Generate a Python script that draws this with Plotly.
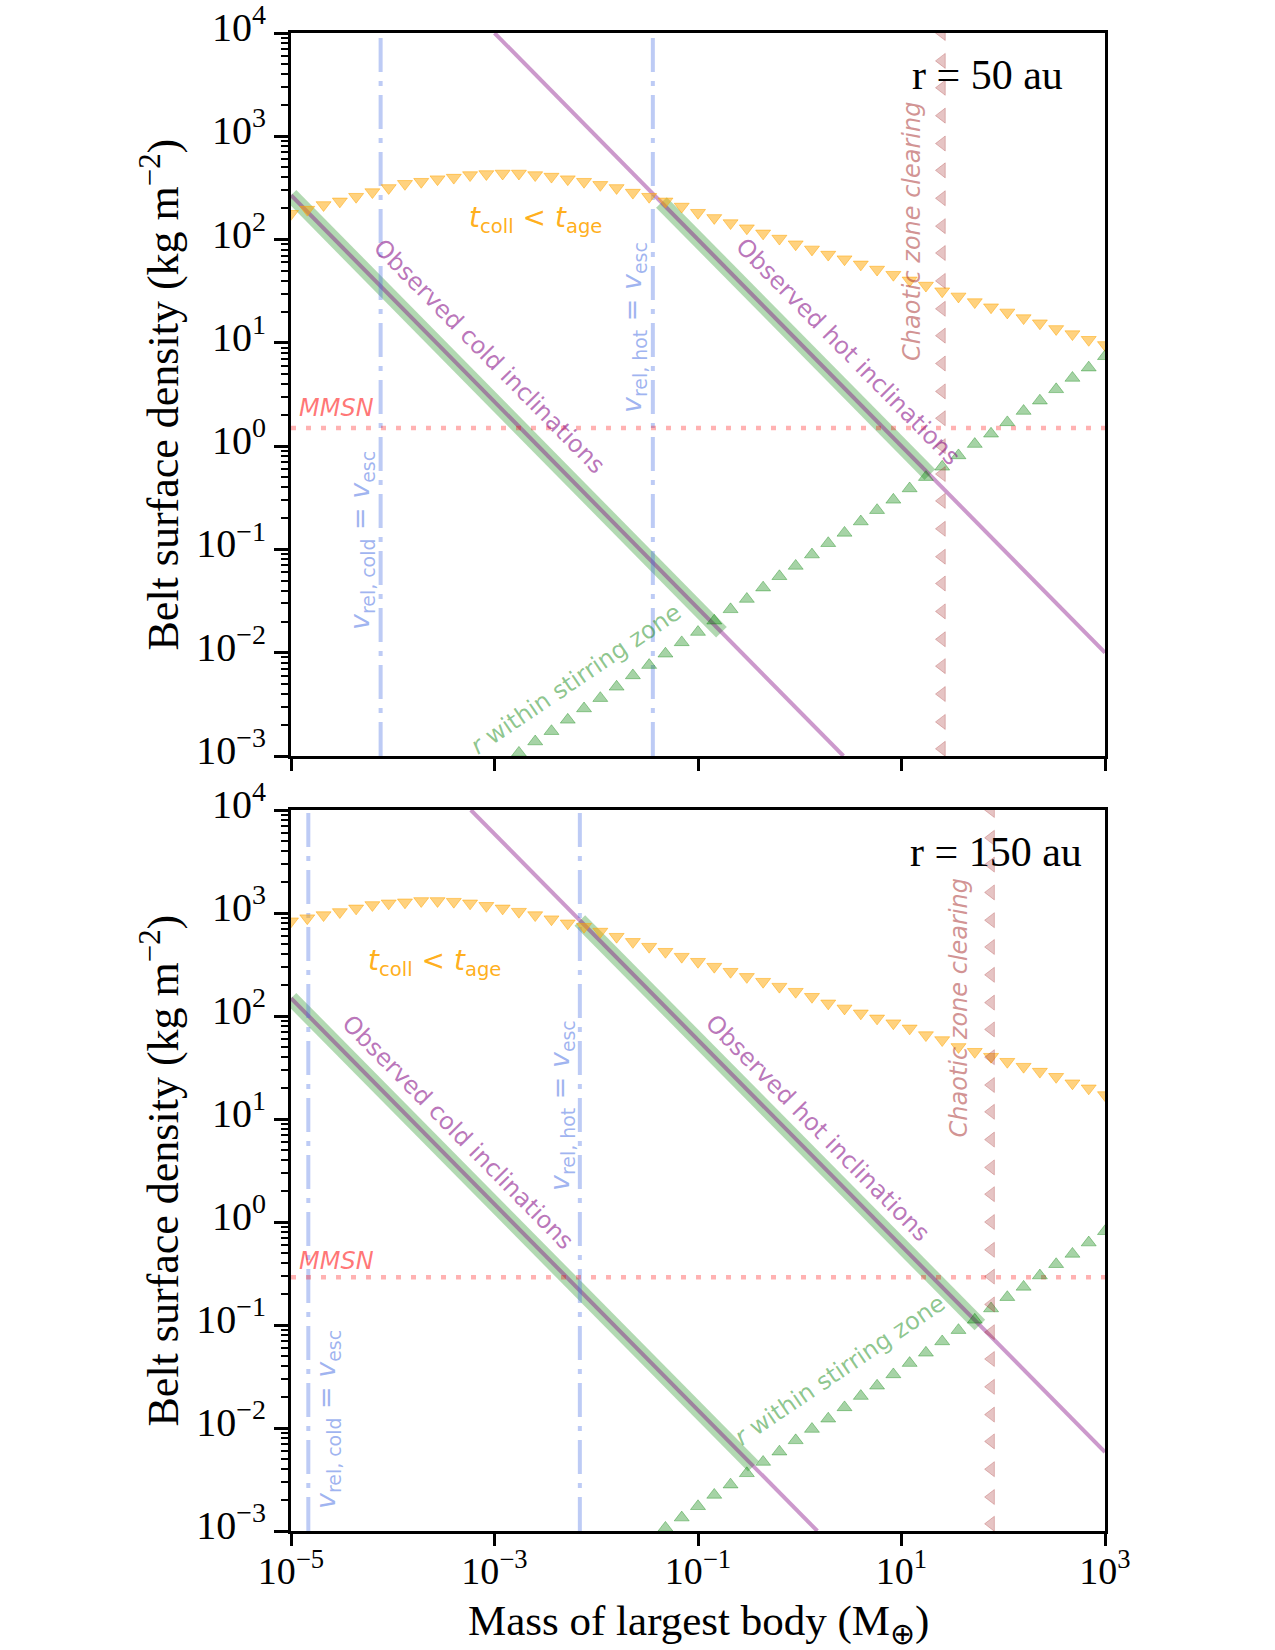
import plotly.graph_objects as go

# ---------------- data ----------------
# marker grid of the curves: log10 of mass of largest body (M_earth)
log_mass = [-5.00, -4.84, -4.68, -4.52, -4.36, -4.20, -4.04, -3.88, -3.72, -3.56,
            -3.40, -3.24, -3.08, -2.92, -2.76, -2.60, -2.44, -2.28, -2.12, -1.96,
            -1.80, -1.64, -1.48, -1.32, -1.16, -1.00, -0.84, -0.68, -0.52, -0.36,
            -0.20, -0.04, 0.12, 0.28, 0.44, 0.60, 0.76, 0.92, 1.08, 1.24,
            1.40, 1.56, 1.72, 1.88, 2.04, 2.20, 2.36, 2.52, 2.68, 2.84, 3.00]

# t_coll < t_age curve, log10 surface density
tcoll_top = [2.25, 2.29, 2.335, 2.37, 2.415, 2.46, 2.50, 2.54, 2.56, 2.585,
             2.60, 2.625, 2.635, 2.64, 2.64, 2.625, 2.61, 2.585, 2.56, 2.53,
             2.50, 2.455, 2.415, 2.37, 2.32, 2.26, 2.21, 2.16, 2.11, 2.06,
             2.01, 1.955, 1.905, 1.855, 1.81, 1.76, 1.71, 1.66, 1.605, 1.555,
             1.50, 1.45, 1.395, 1.345, 1.295, 1.24, 1.19, 1.135, 1.085, 1.03, 0.98]
tcoll_bot = [2.92, 2.95, 2.98, 3.01, 3.045, 3.078, 3.094, 3.104, 3.117, 3.117,
             3.11, 3.094, 3.07, 3.045, 3.013, 2.98, 2.94, 2.90, 2.867, 2.82,
             2.77, 2.72, 2.673, 2.624, 2.576, 2.527, 2.479, 2.43, 2.38, 2.333,
             2.285, 2.236, 2.187, 2.123, 2.074, 2.026, 1.977, 1.93, 1.88, 1.815,
             1.767, 1.70, 1.653, 1.605, 1.556, 1.508, 1.46, 1.41, 1.347, 1.298, 1.233]

# r within stirring zone curve (log10 surface density), same grid, from index 13 / 23
stir_top_start = 13
stir_top = [-3.08, -2.97, -2.86, -2.76, -2.65, -2.54, -2.44, -2.33, -2.22, -2.12,
            -2.01, -1.90, -1.80, -1.69, -1.58, -1.48, -1.37, -1.26, -1.16, -1.05,
            -0.94, -0.84, -0.73, -0.62, -0.52, -0.41, -0.30, -0.20, -0.09, 0.02,
            0.12, 0.23, 0.34, 0.44, 0.55, 0.66, 0.76, 0.87]
stir_bot_start = 23
stir_bot = [-2.97, -2.87, -2.76, -2.65, -2.55, -2.44, -2.33, -2.23, -2.12, -2.01,
            -1.91, -1.80, -1.69, -1.59, -1.48, -1.37, -1.27, -1.16, -1.05, -0.95,
            -0.84, -0.73, -0.63, -0.52, -0.41, -0.31, -0.20, -0.09]

# chaotic zone clearing: vertical column of markers (log10 surface density)
chaotic_logS = [4.0, 3.73, 3.47, 3.2, 2.93, 2.67, 2.4, 2.13, 1.87, 1.6, 1.33, 1.07,
                0.8, 0.53, 0.27, 0.0, -0.27, -0.53, -0.8, -1.07, -1.33, -1.6,
                -1.87, -2.13, -2.4, -2.67, -2.93]
chaotic_mass = [25.0, 76.0]          # top, bottom panel

# observed inclination lines (endpoints, mass, surface density)
hot_top_M, hot_top_S = [1e-3, 1e3], [1e4, 1e-2]
cold_top_M, cold_top_S = [1e-5, 2.69], [269.0, 1e-3]
hot_bot_M, hot_bot_S = [5.85e-4, 1e3], [1e4, 5.85e-3]
cold_bot_M, cold_bot_S = [1e-5, 1.49], [149.0, 1e-3]
# highlighted (allowed) parts
hot_top_band_M, hot_top_band_S = [0.0437, 19.0], [229.0, 0.53]
cold_top_band_M, cold_top_band_S = [1e-5, 0.17], [269.0, 0.0158]
hot_bot_band_M, hot_bot_band_S = [6.9e-3, 58.9], [845.0, 0.100]
cold_bot_band_M, cold_bot_band_S = [1e-5, 0.35], [149.0, 4.25e-3]

# v_rel = v_esc masses (cold, hot)
vesc_top = [7.6e-5, 0.036]
vesc_bot = [1.48e-5, 6.9e-3]
# MMSN surface density
mmsn = [1.5, 0.29]

x_ticks = [1e-5, 1e-3, 1e-1, 1e1, 1e3]
x_ticktext = ["10<sup>\u22125</sup>", "10<sup>\u22123</sup>", "10<sup>\u22121</sup>",
              "10<sup>1</sup>", "10<sup>3</sup>"]
y_ticks = [1e-3, 1e-2, 1e-1, 1e0, 1e1, 1e2, 1e3, 1e4]
y_ticktext = ["10<sup>\u22123</sup>", "10<sup>\u22122</sup>", "10<sup>\u22121</sup>",
              "10<sup>0</sup>", "10<sup>1</sup>", "10<sup>2</sup>", "10<sup>3</sup>",
              "10<sup>4</sup>"]

# ---------------- styling ----------------
GREEN_BAND = "rgba(0,128,0,0.3)"
PURPLE = "rgba(128,0,128,0.4)"
BLUE = "rgba(65,105,225,0.35)"
RED = "rgba(255,0,0,0.3)"
ORANGE_M = "rgba(255,165,0,0.5)"
GREEN_M = "rgba(0,128,0,0.35)"
BROWN_M = "rgba(165,42,42,0.28)"
SERIF = "Liberation Serif"
SANS = "DejaVu Sans"
LBL = 24
MS = 13

mass = [10 ** v for v in log_mass]
fig = go.Figure()


def add_panel(xa, ya, tcoll, stir_start, stir, cmass, hotM, hotS, coldM, coldS,
              hbM, hbS, cbM, cbS, vesc, mm):
    kw = dict(xaxis=xa, yaxis=ya, showlegend=False, hoverinfo="skip")
    # highlight bands
    for M, S in ((cbM, cbS), (hbM, hbS)):
        fig.add_trace(go.Scatter(x=M, y=S, mode="lines",
                                 line=dict(color=GREEN_BAND, width=15), **kw))
    # inclination lines
    for M, S in ((coldM, coldS), (hotM, hotS)):
        fig.add_trace(go.Scatter(x=M, y=S, mode="lines",
                                 line=dict(color=PURPLE, width=4), **kw))
    # v_rel = v_esc lines
    for m in vesc:
        fig.add_trace(go.Scatter(x=[m, m], y=[1e-3, 1e4], mode="lines",
                                 line=dict(color=BLUE, width=4,
                                           dash="34px,9px,5px,9px"), **kw))
    # MMSN
    fig.add_trace(go.Scatter(x=[1e-5, 1e3], y=[mm, mm], mode="lines",
                             line=dict(color=RED, width=4.5, dash="5px,10px"), **kw))
    # t_coll < t_age
    fig.add_trace(go.Scatter(x=mass, y=[10 ** v for v in tcoll], mode="markers",
                             marker=dict(symbol="triangle-down", size=MS, color=ORANGE_M,
                                         line=dict(color=ORANGE_M, width=1)), **kw))
    # stirring
    fig.add_trace(go.Scatter(x=mass[stir_start:stir_start + len(stir)],
                             y=[10 ** v for v in stir], mode="markers",
                             marker=dict(symbol="triangle-up", size=MS, color=GREEN_M,
                                         line=dict(color=GREEN_M, width=1)), **kw))
    # chaotic zone
    fig.add_trace(go.Scatter(x=[cmass] * len(chaotic_logS),
                             y=[10 ** v for v in chaotic_logS], mode="markers",
                             marker=dict(symbol="triangle-left", size=MS, color=BROWN_M,
                                         line=dict(color=BROWN_M, width=1)), **kw))


add_panel("x", "y", tcoll_top, stir_top_start, stir_top, chaotic_mass[0],
          hot_top_M, hot_top_S, cold_top_M, cold_top_S,
          hot_top_band_M, hot_top_band_S, cold_top_band_M, cold_top_band_S,
          vesc_top, mmsn[0])
add_panel("x2", "y2", tcoll_bot, stir_bot_start, stir_bot, chaotic_mass[1],
          hot_bot_M, hot_bot_S, cold_bot_M, cold_bot_S,
          hot_bot_band_M, hot_bot_band_S, cold_bot_band_M, cold_bot_band_S,
          vesc_bot, mmsn[1])

XD = [291 / 1275, 1105 / 1275]
minor_vals = [d * 10 ** e for e in range(-3, 4) for d in range(2, 10)]


def xaxis_style(labels, anchor):
    return dict(type="log", range=[-5, 3], domain=XD, anchor=anchor, automargin=False,
                showline=True, linecolor="black", linewidth=3, mirror=True,
                ticks="outside", ticklen=12, tickwidth=3, tickcolor="black",
                tickvals=x_ticks, ticktext=x_ticktext, showticklabels=labels,
                tickfont=dict(family=SERIF, size=38, color="black"),
                ticklabeloverflow="allow",
                showgrid=False, zeroline=False, ticklabelstandoff=-8)


def yaxis_style(domain, anchor):
    return dict(type="log", range=[-3, 4], domain=domain, anchor=anchor, automargin=False,
                showline=True, linecolor="black", linewidth=3, mirror=True,
                ticks="outside", ticklen=14, tickwidth=2.5, tickcolor="black",
                tickvals=y_ticks, ticktext=y_ticktext,
                tickfont=dict(family=SERIF, size=40, color="black"),
                ticklabeloverflow="allow",
                minor=dict(ticks="outside", ticklen=7, tickwidth=2, tickcolor="black",
                           tickvals=minor_vals, showgrid=False),
                showgrid=False, zeroline=False, ticklabelshift=-6, ticklabelstandoff=0)


fig.update_layout(
    width=1275, height=1650, margin=dict(l=0, r=0, t=0, b=0, autoexpand=False),
    paper_bgcolor="white", plot_bgcolor="white",
    xaxis=xaxis_style(False, "y"),
    yaxis=yaxis_style([1 - 756 / 1650, 1 - 33 / 1650], "x"),
    xaxis2=xaxis_style(True, "y2"),
    yaxis2=yaxis_style([1 - 1531 / 1650, 1 - 810 / 1650], "x2"),
)

ann = []


def txt(text, x, y, xr, yr, size, color, family=SANS, angle=0, xanchor="center"):
    ann.append(dict(text=text, x=x, y=y, xref=xr, yref=yr, showarrow=False,
                    textangle=angle, xanchor=xanchor, yanchor="middle",
                    font=dict(family=family, size=size, color=color)))


# axis titles
ytitle = "Belt surface density (kg m<sup>\u22122</sup>)"
txt(ytitle, 160 / 1275, 1 - 394.5 / 1650, "paper", "paper", 44, "black", SERIF, -90)
txt(ytitle, 160 / 1275, 1 - 1170.5 / 1650, "paper", "paper", 44, "black", SERIF, -90)
txt("Mass of largest body (M<sub>\u2295</sub>)", 698 / 1275, 1 - 1624 / 1650,
    "paper", "paper", 43, "black", SERIF)

# panel labels
txt("r = 50 au", 0.760, 0.942, "x domain", "y domain", 42, "black", SERIF, 0, "left")
txt("r = 150 au", 0.758, 0.942, "x2 domain", "y2 domain", 42, "black", SERIF, 0, "left")

TC = "rgba(255,165,0,0.9)"
PT = "rgba(128,0,128,0.55)"
GT = "rgba(0,128,0,0.45)"
BT = "rgba(65,105,225,0.5)"
RT = "rgba(255,0,0,0.55)"
CT = "rgba(165,42,42,0.5)"
tc_text = "<i>t</i><sub>coll</sub> &lt; <i>t</i><sub>age</sub>"
vc_text = "<i>v</i><sub>rel, cold</sub> = <i>v</i><sub>esc</sub>"
vh_text = "<i>v</i><sub>rel, hot</sub> = <i>v</i><sub>esc</sub>"
ang = 45.4
sang = -34.1
VS = 27

# top panel labels (positions in log10 data units)
txt(tc_text, -2.60, 2.19, "x", "y", 28, TC)
txt("<i>MMSN</i>", -4.55, 0.365, "x", "y", LBL, RT)
txt("Observed cold inclinations", -3.054, 0.873, "x", "y", LBL, PT, SANS, ang)
txt("Observed hot inclinations", 0.474, 0.907, "x", "y", LBL, PT, SANS, ang)
txt("<i>r</i> within stirring zone", -2.199, -2.254, "x", "y", LBL, GT, SANS, sang)
txt(vc_text, -4.302, -0.918, "x", "y", VS, BT, SANS, -90)
txt(vh_text, -1.629, 1.144, "x", "y", VS, BT, SANS, -90)
txt("<i>Chaotic zone clearing</i>", 1.103, 2.083, "x", "y", LBL, CT, SANS, -90)

# bottom panel labels
txt(tc_text, -3.585, 2.524, "x2", "y2", 28, TC)
txt("<i>MMSN</i>", -4.55, -0.379, "x2", "y2", LBL, RT)
txt("Observed cold inclinations", -3.364, 0.869, "x2", "y2", LBL, PT, SANS, ang)
txt("Observed hot inclinations", 0.174, 0.908, "x2", "y2", LBL, PT, SANS, ang)
txt("<i>r</i> within stirring zone", 0.396, -1.437, "x2", "y2", LBL, GT, SANS, sang)
txt(vc_text, -4.636, -1.922, "x2", "y2", VS, BT, SANS, -90)
txt(vh_text, -2.346, 1.126, "x2", "y2", VS, BT, SANS, -90)
txt("<i>Chaotic zone clearing</i>", 1.560, 2.078, "x2", "y2", LBL, CT, SANS, -90)

fig.update_layout(annotations=ann)
fig.write_html("out.html")
